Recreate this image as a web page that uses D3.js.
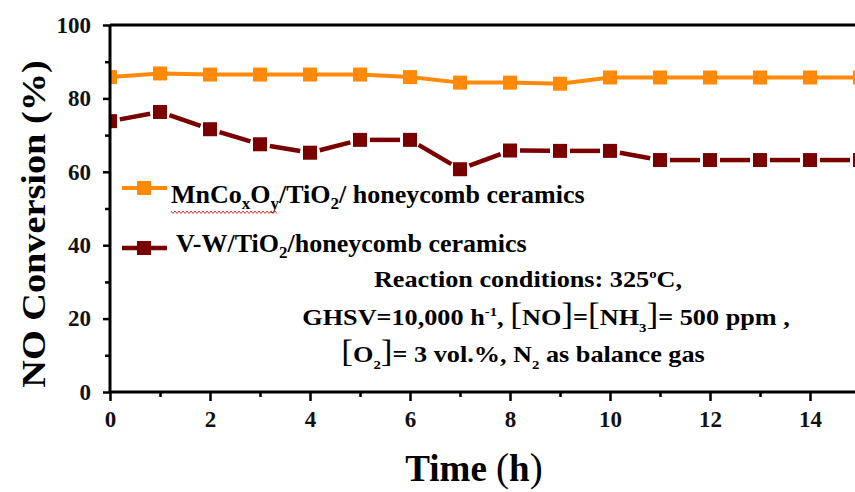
<!DOCTYPE html>
<meta charset="utf-8">
<script src="https://d3js.org/d3.v7.min.js"></script>
<html>
<head>
<style>
body { margin: 0; background: #fff; }
</style>
</head>
<body>
<svg id="chart" width="855" height="492"></svg>
<script>

// data
var hours = [0, 1, 2, 3, 4, 5, 6, 7, 8, 9, 10, 11, 12, 13, 14, 15];
var mnco = [85.8, 86.8, 86.5, 86.5, 86.5, 86.5, 85.8, 84.3, 84.3, 84.0, 85.7, 85.7, 85.7, 85.7, 85.7, 85.7];
var vw = [73.8, 76.3, 71.6, 67.5, 65.2, 68.7, 68.7, 60.7, 65.8, 65.7, 65.7, 63.2, 63.2, 63.2, 63.2, 63.2];
var xTicks = [0, 2, 4, 6, 8, 10, 12, 14];
var yTicks = [0, 20, 40, 60, 80, 100];

var orange = "#ff8a0a", darkRed = "#7a0000";
var serif = "Liberation Serif, Times New Roman, serif";

var svg = d3.select("#chart");

var x = d3.scaleLinear().domain([0, 15]).range([110, 860]);
var y = d3.scaleLinear().domain([0, 100]).range([392, 25]);

// clip to plot area
svg.append("clipPath").attr("id", "plot")
  .append("rect").attr("x", 110).attr("y", 0).attr("width", 745).attr("height", 392);

var g = svg.append("g").attr("clip-path", "url(#plot)");

// orange series - solid line
g.append("path")
  .datum(hours)
  .attr("fill", "none")
  .attr("stroke", orange)
  .attr("stroke-width", 4)
  .attr("d", d3.line().x(function(d){ return x(d) }).y(function(d, i){ return y(mnco[i]) }));

g.selectAll(".mk1")
  .data(hours)
  .enter().append("rect")
    .attr("x", function(d){ return x(d) - 7 })
    .attr("y", function(d, i){ return y(mnco[i]) - 7 })
    .attr("width", 14).attr("height", 14)
    .attr("fill", orange);

// dark red series - line with gaps at the markers
var gap = 10;
g.selectAll(".seg")
  .data(hours.slice(0, -1))
  .enter().append("line")
    .each(function(d, i){
      var x0 = x(d), y0 = y(vw[i]), x1 = x(hours[i+1]), y1 = y(vw[i+1]);
      var len = Math.hypot(x1 - x0, y1 - y0), ux = (x1 - x0) / len, uy = (y1 - y0) / len;
      d3.select(this)
        .attr("x1", x0 + ux * gap).attr("y1", y0 + uy * gap)
        .attr("x2", x1 - ux * gap).attr("y2", y1 - uy * gap);
    })
    .attr("stroke", darkRed)
    .attr("stroke-width", 4.5);

g.selectAll(".mk2")
  .data(hours)
  .enter().append("rect")
    .attr("x", function(d){ return x(d) - 7 })
    .attr("y", function(d, i){ return y(vw[i]) - 7 })
    .attr("width", 14).attr("height", 14)
    .attr("fill", darkRed);

// axes
var xAxis = svg.append("g")
  .attr("transform", "translate(0,392)")
  .call(d3.axisBottom(x).tickValues(xTicks).tickSize(9).tickPadding(10).tickFormat(d3.format("d")));
svg.append("g")
  .attr("transform", "translate(0,392)")
  .call(d3.axisBottom(x).tickValues([1, 3, 5, 7, 9, 11, 13]).tickSize(5).tickFormat(""))
  .select(".domain").remove();

var yAxis = svg.append("g")
  .attr("transform", "translate(110,0)")
  .call(d3.axisLeft(y).tickValues(yTicks).tickSize(7).tickPadding(12));
svg.append("g")
  .attr("transform", "translate(110,0)")
  .call(d3.axisLeft(y).tickValues([10, 30, 50, 70, 90]).tickSize(5).tickFormat(""))
  .select(".domain").remove();

svg.selectAll(".domain").attr("stroke-width", 3);
xAxis.select(".domain").attr("d", "M110,0H855");
yAxis.select(".domain").attr("d", "M0,25V392");
svg.selectAll(".tick line").attr("stroke-width", 2.5);
svg.selectAll(".tick text")
  .attr("font-family", null)
  .style("font-family", serif).style("font-weight", "bold")
  .style("font-size", "23px").attr("fill", "#111");

// top frame
svg.append("line").attr("x1", 110).attr("x2", 855).attr("y1", 25).attr("y2", 25)
  .attr("stroke", "#000").attr("stroke-width", 3);

function label(sel) {
  return sel.append("text").style("font-family", serif).style("font-weight", "bold");
}

// axis titles
label(svg)
  .attr("transform", "translate(45,224) rotate(-90) scale(1.16,1)")
  .attr("text-anchor", "middle")
  .style("font-size", "33px")
  .text("NO Conversion (%)");

var xt = label(svg)
  .attr("x", 474).attr("y", 481)
  .attr("text-anchor", "middle")
  .style("font-size", "37px");
xt.append("tspan").text("Time ");
xt.append("tspan").style("font-size", "39px").style("font-weight", "normal").text("(");
xt.append("tspan").text("h");
xt.append("tspan").style("font-size", "39px").style("font-weight", "normal").text(")");

// legend
var leg = svg.append("g");
leg.append("line").attr("x1", 122).attr("x2", 167).attr("y1", 188).attr("y2", 188)
  .attr("stroke", orange).attr("stroke-width", 4);
leg.append("rect").attr("x", 137).attr("y", 181).attr("width", 14).attr("height", 14).attr("fill", orange);
leg.append("line").attr("x1", 122).attr("x2", 167).attr("y1", 248).attr("y2", 248)
  .attr("stroke", darkRed).attr("stroke-width", 4.5);
leg.append("rect").attr("x", 137).attr("y", 241).attr("width", 14).attr("height", 14).attr("fill", darkRed);

var t1 = label(leg).attr("x", 171).attr("y", 203).style("font-size", "26px");
t1.append("tspan").text("MnCo");
t1.append("tspan").attr("dy", 6).style("font-size", "17px").text("x");
t1.append("tspan").attr("dy", -6).text("O");
t1.append("tspan").attr("dy", 6).style("font-size", "17px").text("y");
t1.append("tspan").attr("dy", -6).text("/TiO");
t1.append("tspan").attr("dy", 6).style("font-size", "17px").text("2");
t1.append("tspan").attr("dy", -6).text("/ honeycomb ceramics");

// spell-check squiggle under MnCoxOy
var sq = [];
for (var i = 0; i <= 53; i++) sq.push([171 + i * 2, 212 + (i % 2 ? 1.5 : -1)]);
leg.append("path").attr("d", d3.line()(sq)).attr("fill", "none")
  .attr("stroke", "#e03030").attr("stroke-width", 1);

var t2 = label(leg).attr("x", 176).attr("y", 252).style("font-size", "26px");
t2.append("tspan").text("V-W/TiO");
t2.append("tspan").attr("dy", 6).style("font-size", "17px").text("2");
t2.append("tspan").attr("dy", -6).text("/honeycomb ceramics");

// reaction conditions (text is a bit wider than normal in the source)
var note = svg.append("g");
function noteLine(cx, cy) {
  return label(note).attr("transform", "translate(" + cx + "," + cy + ") scale(1.14,1)")
    .attr("text-anchor", "middle").style("font-size", "23px");
}
var n1 = noteLine(528, 287);
n1.append("tspan").text("Reaction conditions: 325");
n1.append("tspan").attr("dy", -9).style("font-size", "13px").text("o");
n1.append("tspan").attr("dy", 9).text("C,");

var n2 = noteLine(546, 325);
n2.append("tspan").text("GHSV=10,000 h");
n2.append("tspan").attr("dy", -9).style("font-size", "13px").text("-1");
n2.append("tspan").attr("dy", 9).text(", ");
n2.append("tspan").style("font-size", "31px").style("font-weight", "normal").text("[");
n2.append("tspan").text("NO");
n2.append("tspan").style("font-size", "31px").style("font-weight", "normal").text("]");
n2.append("tspan").text("=");
n2.append("tspan").style("font-size", "31px").style("font-weight", "normal").text("[");
n2.append("tspan").text("NH");
n2.append("tspan").attr("dy", 7).style("font-size", "13px").text("3");
n2.append("tspan").attr("dy", -7).style("font-size", "31px").style("font-weight", "normal").text("]");
n2.append("tspan").text("= 500 ppm ,");

var n3 = noteLine(523, 362);
n3.append("tspan").style("font-size", "31px").style("font-weight", "normal").text("[");
n3.append("tspan").text("O");
n3.append("tspan").attr("dy", 7).style("font-size", "13px").text("2");
n3.append("tspan").attr("dy", -7).style("font-size", "31px").style("font-weight", "normal").text("]");
n3.append("tspan").text("= 3 vol.%,  N");
n3.append("tspan").attr("dy", 7).style("font-size", "13px").text("2");
n3.append("tspan").attr("dy", -7).text(" as balance gas");

</script>
</body>
</html>
